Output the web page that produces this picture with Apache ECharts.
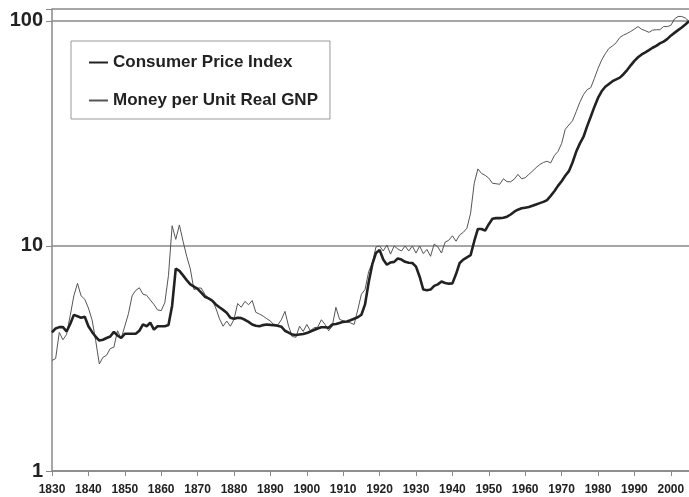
<!DOCTYPE html>
<html>
<head>
<meta charset="utf-8">
<script src="https://cdn.jsdelivr.net/npm/echarts@6/dist/echarts.min.js"></script>
<style>
  html, body { margin: 0; padding: 0; background: #fff; }
  #main { width: 689px; height: 497px; }
</style>
</head>
<body>
<div id="main"></div>
<script>
// years 1830 - 2005, one value per year
var firstYear = 1830;
var lastYear = 2005;

var cpi = [
  4.13, 4.3, 4.36, 4.36, 4.17, 4.5, 4.94, 4.87, 4.8, 4.85,          // 1830s
  4.4, 4.15, 3.95, 3.8, 3.83, 3.9, 3.96, 4.15, 4.0, 3.9,            // 1840s
  4.07, 4.07, 4.07, 4.07, 4.2, 4.48, 4.4, 4.56, 4.25, 4.4,          // 1850s
  4.4, 4.4, 4.45, 5.43, 7.94, 7.75, 7.4, 7.05, 6.75, 6.6,           // 1860s
  6.45, 6.2, 5.95, 5.85, 5.72, 5.5, 5.34, 5.2, 5.05, 4.8,           // 1870s
  4.75, 4.8, 4.78, 4.7, 4.6, 4.48, 4.42, 4.4, 4.45, 4.48,           // 1880s
  4.46, 4.45, 4.42, 4.38, 4.2, 4.12, 4.04, 4.02, 4.04, 4.06,        // 1890s
  4.1, 4.17, 4.23, 4.3, 4.35, 4.35, 4.33, 4.48, 4.5, 4.55,          // 1900s
  4.6, 4.62, 4.68, 4.75, 4.82, 4.95, 5.5, 6.9, 8.3, 9.3,            // 1910s
  9.6, 8.7, 8.25, 8.45, 8.5, 8.8, 8.7, 8.5, 8.42, 8.4,              // 1920s
  8.1, 7.3, 6.4, 6.36, 6.4, 6.65, 6.75, 6.95, 6.85, 6.8,            // 1930s
  6.82, 7.5, 8.4, 8.7, 8.9, 9.1, 10.5, 11.9, 11.9, 11.7,            // 1940s
  12.5, 13.2, 13.3, 13.3, 13.35, 13.5, 13.8, 14.2, 14.5, 14.7,      // 1950s
  14.8, 14.9, 15.1, 15.3, 15.5, 15.7, 16.0, 16.7, 17.5, 18.5,       // 1960s
  19.4, 20.5, 21.5, 23.5, 26.2, 28.5, 30.5, 34, 37.5, 41.5,         // 1970s
  45.5, 48.7, 51, 52.5, 54, 55, 56, 58, 60.5, 63.5,                 // 1980s
  66.5, 69, 71, 72.5, 74.2, 76, 77.5, 79.5, 81, 83,                 // 1990s
  86, 88.5, 91, 93.5, 96.5, 99.7                                    // 2000s
];

var money = [
  3.1, 3.16, 4.13, 3.83, 4.04, 4.9, 6.0, 6.82, 6.0, 5.8,            // 1830s
  5.3, 4.7, 3.8, 2.99, 3.2, 3.27, 3.5, 3.55, 4.2, 3.88,             // 1840s
  4.4, 5.0, 6.0, 6.35, 6.52, 6.1, 6.04, 5.75, 5.5, 5.2,             // 1850s
  5.16, 5.6, 7.4, 12.3, 10.7, 12.4, 10.5, 9.0, 7.9, 6.4,            // 1860s
  6.5, 6.5, 6.1, 5.87, 5.75, 5.3, 4.75, 4.4, 4.64, 4.4,             // 1870s
  4.72, 5.55, 5.34, 5.67, 5.48, 5.72, 5.07, 4.98, 4.88, 4.75,       // 1880s
  4.64, 4.45, 4.45, 4.7, 5.12, 4.4, 3.96, 3.93, 4.4, 4.17,          // 1890s
  4.48, 4.2, 4.33, 4.36, 4.7, 4.48, 4.2, 4.4, 5.34, 4.72,           // 1900s
  4.65, 4.6, 4.55, 4.48, 5.2, 6.1, 6.4, 7.7, 8.4, 9.9,              // 1910s
  10.0, 9.5, 10.1, 9.2, 10.0, 9.7, 9.5, 10.0, 9.5, 10.0,            // 1920s
  9.3, 10.0, 9.25, 9.65, 9.0, 10.2, 9.9, 9.3, 10.4, 10.6,           // 1930s
  11.1, 10.5, 11.2, 11.5, 12.0, 14.0, 19.0, 22.0, 21.0, 20.6,       // 1940s
  20.0, 19.0, 18.9, 18.8, 19.9, 19.3, 19.3, 19.8, 20.8, 19.9,       // 1950s
  20.1, 20.8, 21.5, 22.3, 23.0, 23.5, 23.8, 23.4, 25.2, 26.3,       // 1960s
  28.5, 33.0, 34.5, 36.0, 39.5, 43.5, 47.0, 49.5, 50.5, 55.5,       // 1970s
  61.5, 67.0, 71.5, 75.5, 77.5, 80.0, 84.5, 86.5, 88.0, 89.8,       // 1980s
  92.0, 94.4, 91.8, 90.5, 89.0, 91.0, 91.4, 91.4, 94.4, 94.4,       // 1990s
  95.5, 102, 104.7, 104.7, 103, 99.7                                // 2000s
];

var seriesNames = ["Consumer Price Index", "Money per Unit Real GNP"];
var yTicks = [1, 10, 100];

function pairs(values) {
  var out = [];
  for (var i = 0; i < values.length; i++) {
    out.push([firstYear + i, values[i]]);
  }
  return out;
}

var boldFont = "'Liberation Sans', Arial, sans-serif";

var myChart = echarts.init(document.getElementById("main"));
var option = {
  animation: false,
  backgroundColor: "#fff",
  grid: { left: 52, right: 0, top: 9, bottom: 26 },
  legend: {
    orient: "vertical",
    left: 71,
    top: 41,
    padding: [13, 12, 10, 17],
    itemWidth: 19,
    itemHeight: 14,
    itemGap: 21,
    borderColor: "#999",
    borderWidth: 1,
    borderRadius: 0,
    itemStyle: { opacity: 0 },
    data: seriesNames,
    textStyle: {
      fontFamily: boldFont,
      fontWeight: "bold",
      fontSize: 17,
      color: "#222"
    }
  },
  xAxis: {
    type: "value",
    min: firstYear,
    max: lastYear,
    interval: 10,
    splitLine: { show: false },
    axisLine: { lineStyle: { color: "#888", width: 1.5 } },
    axisTick: { show: true, length: 5, lineStyle: { color: "#888" } },
    axisLabel: {
      showMaxLabel: false,
      margin: 13,
      fontFamily: boldFont,
      fontWeight: "bold",
      fontSize: 12,
      color: "#222",
      formatter: function (v) { return String(v); }
    }
  },
  yAxis: {
    type: "log",
    logBase: 10,
    min: 1,
    max: 113,
    axisLine: { show: true, lineStyle: { color: "#888", width: 1.5 } },
    axisTick: { show: true, length: 6, lineStyle: { color: "#888" } },
    splitLine: { show: true, lineStyle: { color: "#888", width: 1.5 } },
    axisLabel: {
      margin: 9,
      padding: [6, 0, 0, 0],
      fontFamily: boldFont,
      fontWeight: "bold",
      fontSize: 20,
      color: "#222",
      formatter: function (v) {
        for (var i = 0; i < yTicks.length; i++) {
          if (Math.abs(v - yTicks[i]) < 1e-6 * yTicks[i]) return String(yTicks[i]);
        }
        return "";
      }
    }
  },
  series: [
    {
      name: seriesNames[0],
      type: "line",
      data: pairs(cpi),
      symbol: "none",
      lineStyle: { color: "#222", width: 2.6 },
      itemStyle: { color: "#222" },
      z: 3
    },
    {
      name: seriesNames[1],
      type: "line",
      data: pairs(money),
      symbol: "none",
      lineStyle: { color: "#555", width: 1 },
      itemStyle: { color: "#555" },
      z: 2
    }
  ]
};
myChart.setOption(option);
</script>
</body>
</html>
